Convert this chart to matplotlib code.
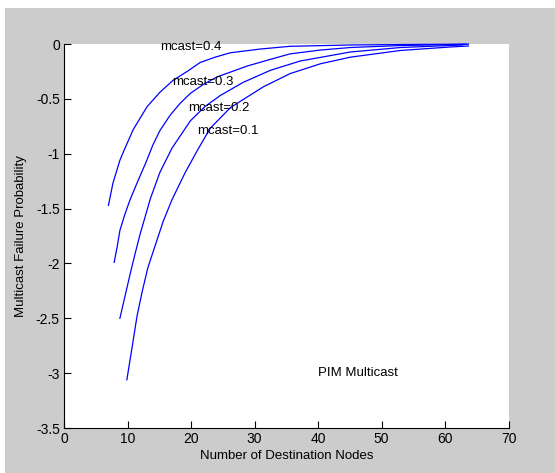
import matplotlib
matplotlib.use("Agg")
import matplotlib.pyplot as plt
from matplotlib.patches import Rectangle

# mcast = 0.4
x_04 = [7.0, 7.7, 8.8, 9.6, 10.9, 13.1, 15.1, 17.2, 19.4, 21.4, 23.8, 26.2, 30.9, 35.6, 45.1, 53.0, 63.7]
y_04 = [-1.47, -1.27, -1.06, -0.95, -0.78, -0.57, -0.44, -0.33, -0.25, -0.17, -0.12, -0.08, -0.046, -0.021, -0.009, -0.005, -0.001]
# mcast = 0.3
x_03 = [7.9, 8.4, 8.8, 9.6, 10.4, 11.7, 12.9, 14.0, 15.1, 16.7, 18.3, 19.9, 21.9, 24.1, 26.5, 28.9, 32.5, 35.6, 40.4, 45.1, 53.0, 63.4]
y_03 = [-1.99, -1.84, -1.70, -1.55, -1.42, -1.24, -1.08, -0.92, -0.79, -0.65, -0.54, -0.45, -0.37, -0.30, -0.25, -0.20, -0.14, -0.09, -0.055, -0.032, -0.014, -0.003]
# mcast = 0.2
x_02 = [8.8, 9.6, 10.4, 11.2, 12.0, 12.8, 13.6, 15.1, 17.0, 19.9, 22.2, 24.6, 28.2, 32.5, 37.2, 45.1, 53.0, 62.8]
y_02 = [-2.50, -2.30, -2.10, -1.91, -1.73, -1.57, -1.41, -1.17, -0.95, -0.70, -0.57, -0.47, -0.35, -0.24, -0.155, -0.073, -0.032, -0.009]
# mcast = 0.1
x_01 = [9.9, 10.4, 10.9, 11.5, 12.3, 13.2, 14.4, 15.6, 17.0, 19.1, 21.0, 23.0, 26.2, 31.4, 35.6, 40.4, 45.1, 53.0, 60.9, 63.7]
y_01 = [-3.06, -2.88, -2.70, -2.48, -2.26, -2.04, -1.83, -1.62, -1.42, -1.17, -0.97, -0.77, -0.58, -0.39, -0.27, -0.18, -0.12, -0.059, -0.027, -0.018]

labels = ["mcast=0.4", "mcast=0.3", "mcast=0.2", "mcast=0.1"]
label_x = [15.1, 17.1, 19.5, 20.9]
label_y = [-0.03, -0.346, -0.579, -0.79]

xticks = [0, 10, 20, 30, 40, 50, 60, 70]
yticks = [0, -0.5, -1, -1.5, -2, -2.5, -3, -3.5]
ytick_labels = ["0", "-0.5", "-1", "-1.5", "-2", "-2.5", "-3", "-3.5"]

plt.rcParams['font.family'] = ['Liberation Sans', 'DejaVu Sans']

W, H = 555, 473
fig = plt.figure(figsize=(W / 100, H / 100), dpi=100, facecolor='white')
fig.patches.append(Rectangle((5 / W, 0), 1 - 5 / W, 1 - 8 / H, transform=fig.transFigure,
                             facecolor='#cccccc', edgecolor='none', zorder=-10))

ax = fig.add_axes([64 / W, 1 - 428 / H, (508.5 - 64) / W, (428 - 44) / H])
ax.set_facecolor('white')

for xs, ys in [(x_04, y_04), (x_03, y_03), (x_02, y_02), (x_01, y_01)]:
    ax.plot(xs, ys, color='#0000ff', lw=0.9, clip_on=False)

for t, lx, ly in zip(labels, label_x, label_y):
    ax.text(lx, ly, t, fontsize=9.5, ha='left', va='center', color='black')

ax.text(40, -3.0, "PIM Multicast", fontsize=9.5, ha='left', va='center', color='black')

ax.set_xlim(0, 70)
ax.set_ylim(-3.5, 0)
ax.set_xticks(xticks)
ax.set_xticklabels([str(v) for v in xticks])
ax.set_yticks(yticks)
ax.set_yticklabels(ytick_labels)
ax.tick_params(direction='in', length=5, width=0.8, labelsize=10, pad=3, colors='black')
for s in ['top', 'right']:
    ax.spines[s].set_visible(False)
for s in ['left', 'bottom']:
    ax.spines[s].set_linewidth(0.8)

ax.set_xlabel("Number of Destination Nodes", fontsize=9.5, labelpad=3)
ax.set_ylabel("Multicast Failure Probability", fontsize=9.5, labelpad=6)

fig.savefig("out.png", dpi=100, facecolor=fig.get_facecolor())
